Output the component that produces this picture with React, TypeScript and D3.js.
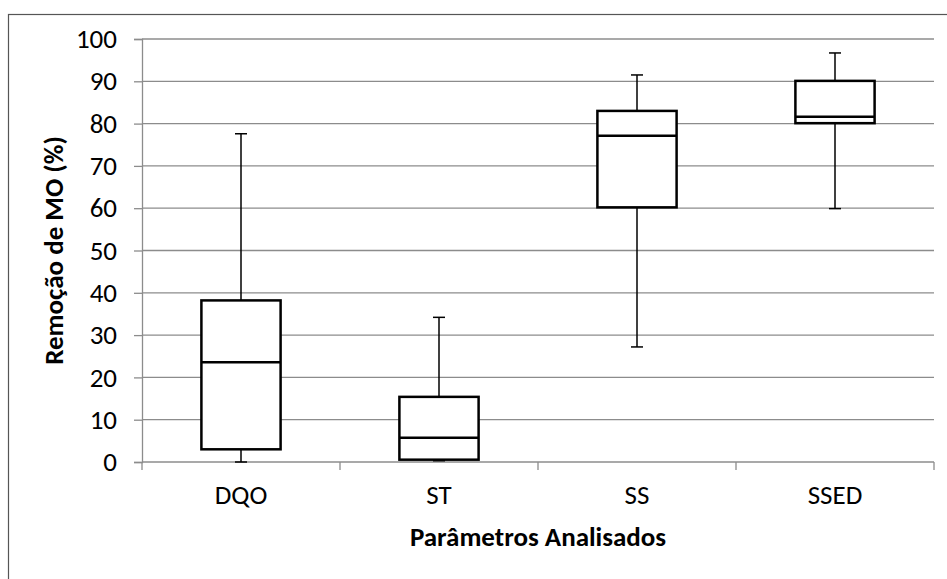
import React, { useEffect, useRef } from "react";
import * as d3 from "d3";

const categories = ["DQO", "ST", "SS", "SSED"];
const whiskerLow = [0, 0.3, 27.2, 59.9];
const q1 = [3.0, 0.55, 60.2, 80.1];
const median = [23.6, 5.75, 77.1, 81.6];
const q3 = [38.2, 15.4, 83.0, 90.1];
const whiskerHigh = [77.6, 34.2, 91.5, 96.7];
const yTicks = [0, 10, 20, 30, 40, 50, 60, 70, 80, 90, 100];

const W = 947;
const H = 579;
const FONT = "Calibri, Carlito, Lato, 'Open Sans', sans-serif";

export default function App() {
  const ref = useRef<SVGSVGElement>(null);

  useEffect(() => {
    const svg = d3.select(ref.current);
    svg.selectAll("*").remove();

    const left = 142;
    const right = 934;
    const top = 39;
    const bottom = 462;

    const x = d3.scaleBand<string>().domain(categories).range([left, right]).paddingInner(0).paddingOuter(0);
    const y = d3.scaleLinear().domain([0, 100]).range([bottom, top]);

    // outer chart border
    svg
      .append("rect")
      .attr("x", 8.5)
      .attr("y", 14.5)
      .attr("width", 960)
      .attr("height", 600)
      .attr("fill", "#fff")
      .attr("stroke", "#555")
      .attr("stroke-width", 1.2);

    // gridlines
    svg
      .append("g")
      .selectAll("line")
      .data(yTicks.filter((t) => t > 0))
      .join("line")
      .attr("x1", left)
      .attr("x2", right)
      .attr("y1", (d) => y(d))
      .attr("y2", (d) => y(d))
      .attr("stroke", "#8c8c8c")
      .attr("stroke-width", 1.3);

    // y axis
    const yAxis = svg
      .append("g")
      .attr("transform", `translate(${left},0)`)
      .call(d3.axisLeft(y).tickValues(yTicks).tickSize(8).tickPadding(17));
    yAxis.selectAll(".domain, .tick line").attr("stroke", "#8c8c8c").attr("stroke-width", 1.3);
    yAxis
      .selectAll("text")
      .attr("fill", "#000")
      .style("font-family", FONT)
      .style("font-size", "27px");

    // x axis
    const xAxis = svg.append("g").attr("transform", `translate(0,${bottom})`);
    xAxis
      .append("line")
      .attr("x1", left)
      .attr("x2", right)
      .attr("stroke", "#8c8c8c")
      .attr("stroke-width", 1.3);
    const edges = categories.map((c) => x(c) as number).concat([right]);
    xAxis
      .selectAll("line.tk")
      .data(edges)
      .join("line")
      .attr("class", "tk")
      .attr("x1", (d) => d)
      .attr("x2", (d) => d)
      .attr("y1", 0)
      .attr("y2", 8)
      .attr("stroke", "#8c8c8c")
      .attr("stroke-width", 1.3);
    xAxis
      .selectAll("text")
      .data(categories)
      .join("text")
      .attr("x", (d) => (x(d) as number) + x.bandwidth() / 2)
      .attr("y", 42)
      .attr("text-anchor", "middle")
      .attr("fill", "#000")
      .style("font-family", FONT)
      .style("font-size", "27px")
      .text((d) => d);

    // boxes
    const boxW = x.bandwidth() * 0.4;
    const capW = 12;
    const g = svg.append("g");
    categories.forEach((c, i) => {
      const cx = (x(c) as number) + x.bandwidth() / 2;
      // whiskers
      g.append("line")
        .attr("x1", cx).attr("x2", cx)
        .attr("y1", y(whiskerHigh[i])).attr("y2", y(q3[i]))
        .attr("stroke", "#000").attr("stroke-width", 1.5);
      g.append("line")
        .attr("x1", cx).attr("x2", cx)
        .attr("y1", y(q1[i])).attr("y2", y(whiskerLow[i]))
        .attr("stroke", "#000").attr("stroke-width", 1.5);
      g.append("line")
        .attr("x1", cx - capW / 2).attr("x2", cx + capW / 2)
        .attr("y1", y(whiskerHigh[i])).attr("y2", y(whiskerHigh[i]))
        .attr("stroke", "#000").attr("stroke-width", 1.5);
      g.append("line")
        .attr("x1", cx - capW / 2).attr("x2", cx + capW / 2)
        .attr("y1", y(whiskerLow[i])).attr("y2", y(whiskerLow[i]))
        .attr("stroke", "#000").attr("stroke-width", 1.5);
      // box
      g.append("rect")
        .attr("x", cx - boxW / 2)
        .attr("y", y(q3[i]))
        .attr("width", boxW)
        .attr("height", y(q1[i]) - y(q3[i]))
        .attr("fill", "#fff")
        .attr("stroke", "#000")
        .attr("stroke-width", 2.5);
      g.append("line")
        .attr("x1", cx - boxW / 2).attr("x2", cx + boxW / 2)
        .attr("y1", y(median[i])).attr("y2", y(median[i]))
        .attr("stroke", "#000").attr("stroke-width", 2.5);
    });

    // axis titles
    svg
      .append("text")
      .attr("x", (left + right) / 2)
      .attr("y", 546)
      .attr("text-anchor", "middle")
      .attr("fill", "#000")
      .style("font-family", FONT)
      .style("font-size", "27px")
      .style("font-weight", "bold")
      .text("Parâmetros Analisados");

    svg
      .append("text")
      .attr("transform", `translate(63,${(top + bottom) / 2}) rotate(-90)`)
      .attr("text-anchor", "middle")
      .attr("fill", "#000")
      .style("font-family", FONT)
      .style("font-size", "27px")
      .style("font-weight", "bold")
      .text("Remoção de MO (%)");
  }, []);

  return (
    <svg
      ref={ref}
      width={W}
      height={H}
      style={{ position: "absolute", left: 0, top: 0, background: "#fff" }}
    />
  );
}
